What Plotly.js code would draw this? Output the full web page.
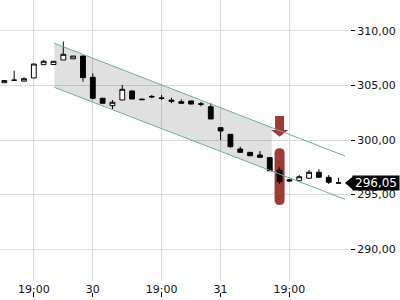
<!DOCTYPE html>
<html>
<head>
<meta charset="utf-8">
<script src="https://cdn.plot.ly/plotly-3.0.1.min.js"></script>
<style>html,body{margin:0;padding:0;background:#fff}#chart{width:400px;height:300px}</style>
</head>
<body>
<div id="chart"></div>
<script>
// bar index positions (hourly-ish bars)
var barIndex = [0,1,2,3,4,5,6,7,8,9,10,11,12,13,14,15,16,17,18,19,20,21,22,23,24,25,26,27,28,29,30,31,32,33,34];
var openV  = [305.25,305.47,305.40,305.69,306.91,306.92,307.34,307.45,307.70,305.75,303.83,303.15,303.67,304.50,303.75,304.00,303.86,303.66,303.51,303.58,303.32,303.05,301.13,300.52,299.17,298.87,298.62,298.38,297.25,296.35,296.27,296.49,297.04,296.58,296.07];
var highV  = [305.45,306.35,305.75,306.97,307.35,307.22,309.02,307.70,307.75,306.12,303.85,303.67,305.05,304.50,303.78,304.13,304.13,303.88,303.73,303.60,303.50,303.37,301.13,300.52,299.39,298.90,298.99,298.38,297.49,296.42,296.79,297.25,297.31,296.79,296.55];
var lowV   = [305.23,305.45,305.38,305.69,306.90,306.92,307.34,307.43,305.35,303.73,303.35,302.84,303.67,303.76,303.68,303.83,303.67,303.37,303.37,303.28,303.10,301.93,300.00,299.29,298.87,298.56,298.41,297.18,295.96,296.20,296.27,296.49,296.58,295.96,296.05];
var closeV = [305.45,305.49,305.62,306.97,307.22,307.22,307.86,307.70,305.72,303.83,303.37,303.46,304.65,303.76,303.70,303.96,303.82,303.55,303.37,303.30,303.28,301.93,300.83,299.39,298.87,298.56,298.41,297.18,296.17,296.25,296.63,297.04,296.58,296.12,296.05];

var xTickIndex = [3, 9, 16, 22, 29];
var xTickText  = ['19:00', '30', '19:00', '31', '19:00'];
var yTickVals  = [290, 295, 300, 305, 310];

// trend channel
var channelX     = [5.09, 34.66];
var channelUpper = [308.87, 298.53];
var channelLower = [304.83, 294.56];
var bandX        = [5.09, 27.2];
var bandUpper    = [308.87, 301.13];
var bandLower    = [304.83, 297.16];

// signal markers
var signalX      = 28;
var signalRange  = [294.04, 299.24];
var arrowLevels  = [302.2, 300.92, 300.3]; // shaft top, head top, tip

var lastPrice = 296.05;
var lastPriceText = '296,05';

var red = '#9e3b35';
var teal = '#6aa9ad';

function P(x, y) { return x + ',' + y; }

var traces = [];
traces.push({type: 'scatter', mode: 'lines', x: channelX, y: channelUpper, line: {color: teal, width: 1}, hoverinfo: 'skip'});
traces.push({type: 'scatter', mode: 'lines', x: channelX, y: channelLower, line: {color: teal, width: 1}, hoverinfo: 'skip'});
traces.push({
  type: 'candlestick',
  x: barIndex, open: openV, high: highV, low: lowV, close: closeV,
  increasing: {line: {color: '#000', width: 1}, fillcolor: '#ffffff'},
  decreasing: {line: {color: '#000', width: 1}, fillcolor: '#000000'},
  whiskerwidth: 0, hoverinfo: 'skip'
});
// dummy trace for tick-only axis
traces.push({type: 'scatter', x: [], y: [], xaxis: 'x2', yaxis: 'y', hoverinfo: 'skip'});

// shapes: band, red range bar (rounded), red arrow
var bandPath = 'M ' + P(bandX[0], bandUpper[0]) + ' L ' + P(bandX[1], bandUpper[1]) +
  ' L ' + P(bandX[1], bandLower[1]) + ' L ' + P(bandX[0], bandLower[0]) + ' Z';

var capW = 0.51, capR = 0.46;
var rTop = signalRange[1], rBot = signalRange[0];
var barPath = 'M ' + P(signalX - capW, rTop - capR) +
  ' Q ' + P(signalX - capW, rTop) + ' ' + P(signalX, rTop) +
  ' Q ' + P(signalX + capW, rTop) + ' ' + P(signalX + capW, rTop - capR) +
  ' L ' + P(signalX + capW, rBot + capR) +
  ' Q ' + P(signalX + capW, rBot) + ' ' + P(signalX, rBot) +
  ' Q ' + P(signalX - capW, rBot) + ' ' + P(signalX - capW, rBot + capR) + ' Z';

var hs = 0.46, hh = 0.87;
var arrowPath = 'M ' + P(signalX - hs, arrowLevels[0]) + ' L ' + P(signalX + hs, arrowLevels[0]) +
  ' L ' + P(signalX + hs, arrowLevels[1]) + ' L ' + P(signalX + hh, arrowLevels[1]) +
  ' L ' + P(signalX, arrowLevels[2]) + ' L ' + P(signalX - hh, arrowLevels[1]) +
  ' L ' + P(signalX - hs, arrowLevels[1]) + ' Z';

var xRange = [-0.44, 34.96];
var font = 'DejaVu Sans, sans-serif';
var layout = {
  width: 400, height: 300,
  margin: {l: 0, r: 0, t: 0, b: 0},
  paper_bgcolor: '#fff', plot_bgcolor: '#fff',
  showlegend: false,
  separators: ', ',
  font: {family: font, size: 11, color: '#111'},
  xaxis: {
    domain: [0, 0.87], range: xRange, type: 'linear',
    tickmode: 'array', tickvals: xTickIndex, ticktext: xTickText,
    showgrid: true, gridcolor: '#d9d9d9', gridwidth: 1,
    zeroline: false, showline: false, ticks: '',
    tickfont: {family: font, size: 11, color: '#111'},
    rangeslider: {visible: false}, fixedrange: true
  },
  xaxis2: {
    overlaying: 'x', anchor: 'free', position: 0.01, domain: [0, 0.87],
    range: xRange, type: 'linear',
    tickmode: 'array', tickvals: xTickIndex,
    showticklabels: false, ticks: 'inside', ticklen: 4, tickcolor: '#000', tickwidth: 1,
    showgrid: false, zeroline: false, showline: false
  },
  yaxis: {
    domain: [0.063, 1], range: [287.06, 312.84],
    side: 'right', anchor: 'free', position: 0.875,
    tickmode: 'array', tickvals: yTickVals, tickformat: '.2f',
    ticks: 'outside', ticklen: 4, tickcolor: '#000', tickwidth: 1,
    showgrid: true, gridcolor: '#d9d9d9', gridwidth: 1,
    zeroline: false, showline: false,
    tickfont: {family: font, size: 11, color: '#111'}
  },
  shapes: [
    {type: 'path', xref: 'x', yref: 'y', path: bandPath, fillcolor: 'rgba(0,0,0,0.12)', line: {width: 0}, layer: 'between'},
    {type: 'path', xref: 'x', yref: 'y', path: barPath, fillcolor: red, line: {width: 0}, layer: 'between'},
    {type: 'path', xref: 'x', yref: 'y', path: arrowPath, fillcolor: red, line: {width: 0}, layer: 'between'},
    {
      type: 'path', xref: 'paper', yref: 'y',
      path: 'M 0.8625 ' + lastPrice + ' L 0.8845 ' + (lastPrice + 0.68) + ' L 0.8845 ' + (lastPrice - 0.68) + ' Z',
      fillcolor: '#000', line: {width: 0}, layer: 'above'
    }
  ],
  annotations: [{
    xref: 'paper', yref: 'y', x: 1, y: lastPrice, xanchor: 'right', yanchor: 'middle',
    text: lastPriceText, showarrow: false, bgcolor: '#000',
    font: {family: font, size: 12, color: '#fff'},
    width: 46, height: 14, borderpad: 0, align: 'center'
  }]
};

Plotly.newPlot('chart', traces, layout, {staticPlot: true, displayModeBar: false});
</script>
</body>
</html>
